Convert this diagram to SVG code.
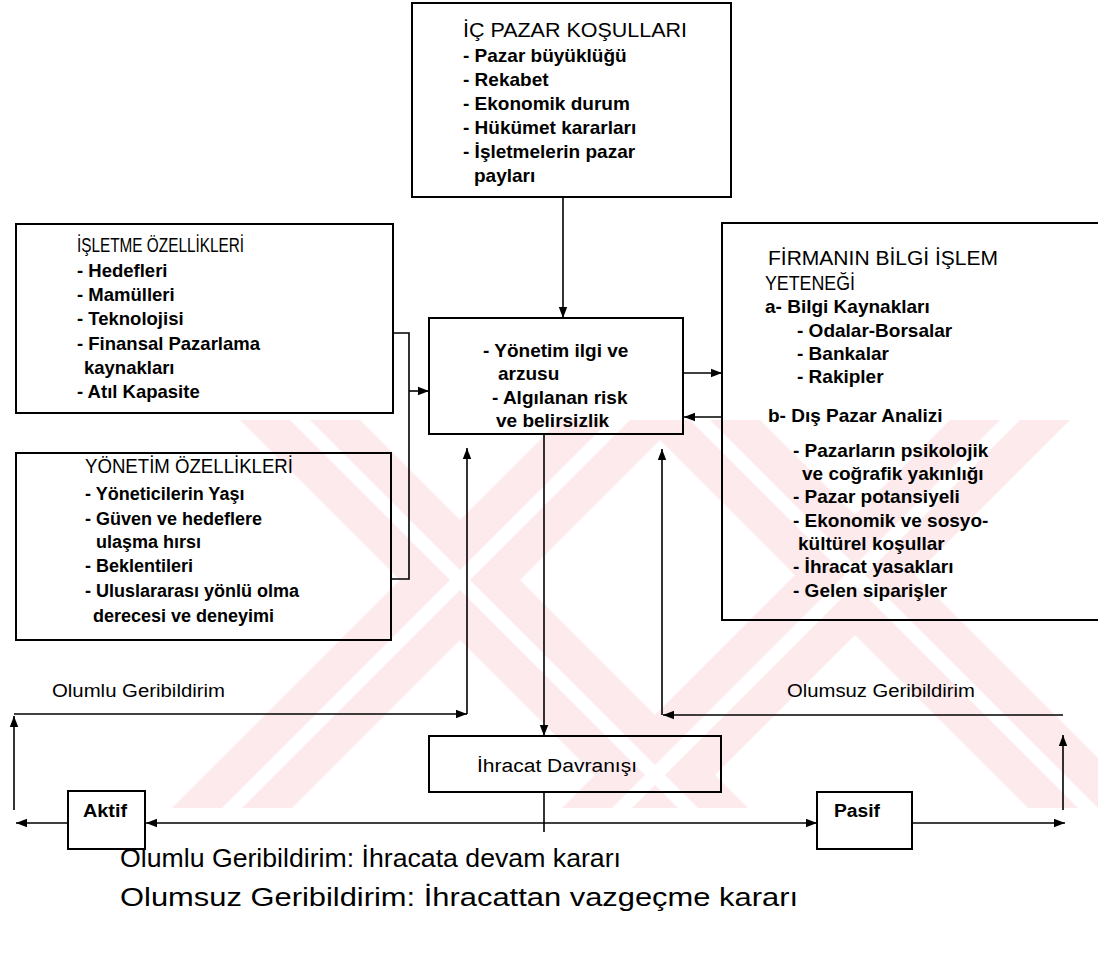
<svg xmlns="http://www.w3.org/2000/svg" width="1098" height="955" viewBox="0 0 1098 955">
<style>
.box{fill:none;stroke:#000;stroke-width:2}
.ln{fill:none;stroke:#000;stroke-width:1.6}
text{font-family:"Liberation Sans",Arial,sans-serif;fill:#000}
.h{font-size:19.5px}
.b{font-weight:bold;font-size:19px}
.b18{font-weight:bold;font-size:18.5px}
.b17{font-weight:bold;font-size:18px}
.lbl{font-size:18px}
.leg{font-size:26px}
.wm{stroke:#fdeaed;stroke-width:85}
.wmg{stroke:#fff;stroke-width:14}
</style>
<defs>
<marker id="ah" markerUnits="userSpaceOnUse" markerWidth="12" markerHeight="10" refX="11" refY="5" orient="auto-start-reverse">
<path d="M0,0.8 L11,5 L0,9.2 Z" fill="#000"/>
</marker>
<clipPath id="wmclip"><rect x="0" y="420" width="1098" height="388"/></clipPath>
</defs>
<rect width="1098" height="955" fill="#fff"/>
<g id="watermark" clip-path="url(#wmclip)">
<line class="wm" x1="200" y1="320" x2="788" y2="908"/>
<line class="wm" x1="720" y1="320" x2="132" y2="908"/>
<line class="wm" x1="600" y1="320" x2="1188" y2="908"/>
<line class="wm" x1="1110" y1="320" x2="522" y2="908"/>
<line class="wmg" x1="200" y1="320" x2="788" y2="908"/>
<line class="wmg" x1="720" y1="320" x2="132" y2="908"/>
<line class="wmg" x1="600" y1="320" x2="1188" y2="908"/>
<line class="wmg" x1="1110" y1="320" x2="522" y2="908"/>
</g>
<g id="connectors">
<line class="ln" x1="563" y1="197" x2="563" y2="318" marker-end="url(#ah)"/>
<polyline class="ln" points="393,333 409,333 409,579 391,579"/>
<line class="ln" x1="409" y1="391" x2="429" y2="391" marker-end="url(#ah)"/>
<line class="ln" x1="683" y1="373" x2="722" y2="373" marker-end="url(#ah)"/>
<line class="ln" x1="722" y1="417" x2="684" y2="417" marker-end="url(#ah)"/>
<line class="ln" x1="544" y1="434" x2="544" y2="736" marker-end="url(#ah)"/>
<line class="ln" x1="467" y1="714" x2="467" y2="448" marker-end="url(#ah)"/>
<line class="ln" x1="14" y1="714" x2="467" y2="714" marker-end="url(#ah)"/>
<line class="ln" x1="14" y1="810" x2="14" y2="716" marker-end="url(#ah)"/>
<line class="ln" x1="662" y1="715" x2="662" y2="449" marker-end="url(#ah)"/>
<line class="ln" x1="1063" y1="715" x2="663" y2="715" marker-end="url(#ah)"/>
<line class="ln" x1="1063" y1="810" x2="1063" y2="735" marker-end="url(#ah)"/>
<line class="ln" x1="544" y1="792" x2="544" y2="832"/>
<line class="ln" x1="68" y1="823" x2="16" y2="823" marker-end="url(#ah)"/>
<line class="ln" x1="146" y1="823" x2="817" y2="823" marker-start="url(#ah)" marker-end="url(#ah)"/>
<line class="ln" x1="912" y1="823" x2="1065" y2="823" marker-end="url(#ah)"/>
</g>
<g id="ic-pazar">
<rect class="box" x="412" y="3" width="319" height="194"/>
<text class="h" x="463" y="37" textLength="224" lengthAdjust="spacingAndGlyphs">İÇ PAZAR KOŞULLARI</text>
<text class="b" x="463" y="62">- Pazar büyüklüğü</text>
<text class="b" x="463" y="86">- Rekabet</text>
<text class="b" x="463" y="110">- Ekonomik durum</text>
<text class="b" x="463" y="134">- Hükümet kararları</text>
<text class="b" x="463" y="158">- İşletmelerin pazar</text>
<text class="b" x="474" y="182">payları</text>
</g>
<g id="isletme">
<rect class="box" x="16" y="224" width="377" height="189"/>
<text class="h" x="77" y="252" textLength="167" lengthAdjust="spacingAndGlyphs">İŞLETME ÖZELLİKLERİ</text>
<text class="b18" x="77" y="277">- Hedefleri</text>
<text class="b18" x="77" y="301">- Mamülleri</text>
<text class="b18" x="77" y="325">- Teknolojisi</text>
<text class="b18" x="77" y="350">- Finansal Pazarlama</text>
<text class="b18" x="84" y="374">kaynakları</text>
<text class="b18" x="77" y="398">- Atıl Kapasite</text>
</g>
<g id="yonetim">
<rect class="box" x="16" y="453" width="375" height="187"/>
<text class="h" x="85" y="473" textLength="208" lengthAdjust="spacingAndGlyphs">YÖNETİM ÖZELLİKLERİ</text>
<text class="b17" x="85" y="500">- Yöneticilerin Yaşı</text>
<text class="b17" x="85" y="525">- Güven ve hedeflere</text>
<text class="b17" x="96" y="548">ulaşma hırsı</text>
<text class="b17" x="85" y="572">- Beklentileri</text>
<text class="b17" x="85" y="597">- Uluslararası yönlü olma</text>
<text class="b17" x="93" y="622">derecesi ve deneyimi</text>
</g>
<g id="merkez">
<rect class="box" x="429" y="318" width="254" height="116"/>
<text class="b" x="483" y="357">- Yönetim ilgi ve</text>
<text class="b" x="498" y="380">arzusu</text>
<text class="b" x="492" y="404">- Algılanan risk</text>
<text class="b" x="496" y="427">ve belirsizlik</text>
</g>
<g id="firma">
<rect class="box" x="722" y="223" width="400" height="397"/>
<text class="h" x="768" y="265" textLength="230" lengthAdjust="spacingAndGlyphs">FİRMANIN BİLGİ İŞLEM</text>
<text class="h" x="765" y="290" textLength="90" lengthAdjust="spacingAndGlyphs">YETENEĞİ</text>
<text class="b" x="765" y="313">a- Bilgi Kaynakları</text>
<text class="b" x="797" y="337">- Odalar-Borsalar</text>
<text class="b" x="797" y="360">- Bankalar</text>
<text class="b" x="797" y="383">- Rakipler</text>
<text class="b" x="768" y="422">b- Dış Pazar Analizi</text>
<text class="b" x="793" y="457">- Pazarların psikolojik</text>
<text class="b" x="802" y="480">ve coğrafik yakınlığı</text>
<text class="b" x="793" y="503">- Pazar potansiyeli</text>
<text class="b" x="793" y="527">- Ekonomik ve sosyo-</text>
<text class="b" x="798" y="550">kültürel koşullar</text>
<text class="b" x="793" y="573">- İhracat yasakları</text>
<text class="b" x="793" y="597">- Gelen siparişler</text>
</g>
<g id="ihracat">
<rect class="box" x="429" y="736" width="292" height="56"/>
<text class="lbl" x="477" y="772" textLength="160" lengthAdjust="spacingAndGlyphs">İhracat Davranışı</text>
</g>
<g id="aktif">
<rect class="box" x="68" y="791" width="77" height="58"/>
<text class="b17" x="83" y="817" textLength="44" lengthAdjust="spacingAndGlyphs">Aktif</text>
</g>
<g id="pasif">
<rect class="box" x="817" y="792" width="95" height="57"/>
<text class="b17" x="834" y="817" textLength="46" lengthAdjust="spacingAndGlyphs">Pasif</text>
</g>
<g id="labels">
<text class="lbl" x="52" y="697" textLength="173" lengthAdjust="spacingAndGlyphs">Olumlu Geribildirim</text>
<text class="lbl" x="787" y="697" textLength="188" lengthAdjust="spacingAndGlyphs">Olumsuz Geribildirim</text>
<text class="leg" x="120" y="867" textLength="501" lengthAdjust="spacingAndGlyphs">Olumlu Geribildirim: İhracata devam kararı</text>
<text class="leg" x="120" y="906" textLength="678" lengthAdjust="spacingAndGlyphs">Olumsuz Geribildirim: İhracattan vazgeçme kararı</text>
</g>
</svg>
